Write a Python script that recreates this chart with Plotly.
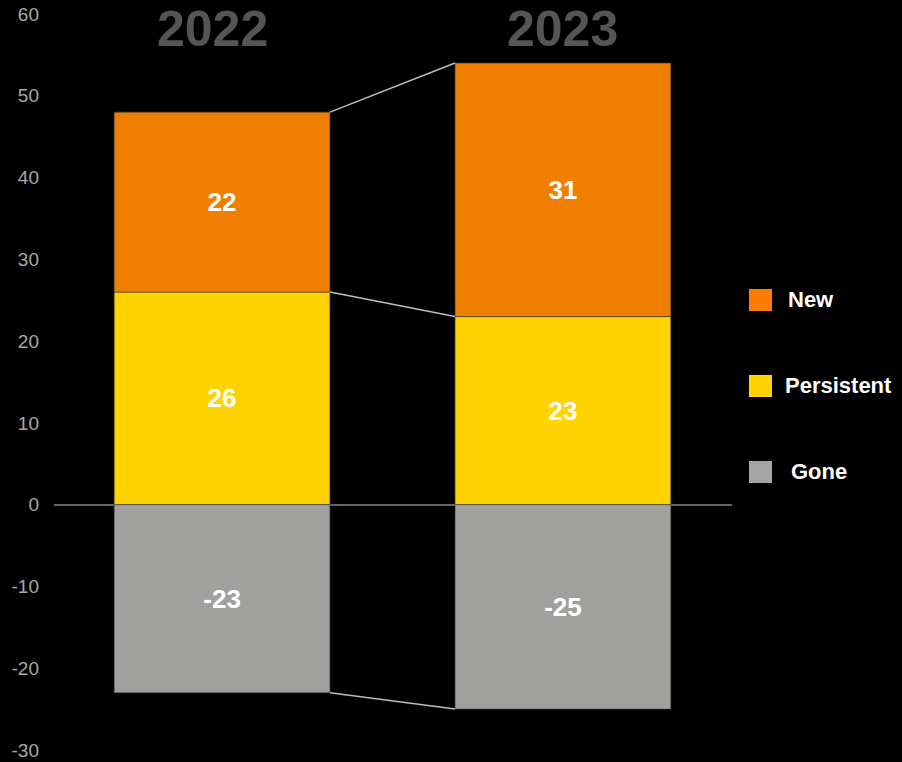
import plotly.graph_objects as go

# Data
years = ["2022", "2023"]
new_vals = [22, 31]
persistent_vals = [26, 23]
gone_vals = [-23, -25]
series_names = ["New", "Persistent", "Gone"]
y_ticks = [-30, -20, -10, 0, 10, 20, 30, 40, 50, 60]
y_tick_labels = ["-30", "-20", "-10", "0", "10", "20", "30", "40", "50", "60"]

bar_colors = {"New": "#F07F00", "Persistent": "#FFD200", "Gone": "#A0A09F"}
legend_colors = {"New": "#FF7A00", "Persistent": "#FFD200", "Gone": "#A6A6A6"}

FONT = "Liberation Sans, Arial, sans-serif"
W, H = 902, 762
ML, MR, MT, MB = 54, 170, 14, 12
PW, PH = W - ML - MR, H - MT - MB

xpos = list(range(len(years)))
bar_w = 0.633
text_font = dict(family=FONT, size=26, color="white")

fig = go.Figure()
for name, vals in [("Persistent", persistent_vals), ("New", new_vals), ("Gone", gone_vals)]:
    fig.add_trace(go.Bar(
        x=xpos, y=vals, name=name, width=bar_w,
        marker=dict(color=bar_colors[name], line=dict(color="rgba(70,70,70,0.7)", width=1)),
        text=[f"<b>{v}</b>" for v in vals], textposition="inside", insidetextanchor="middle",
        textfont=text_font, showlegend=False, hoverinfo="skip",
    ))

# Connector lines between the stacks
tops = [p + n for p, n in zip(persistent_vals, new_vals)]
for level in (tops, persistent_vals, gone_vals):
    fig.add_shape(type="line", xref="x", yref="y",
                  x0=xpos[0] + bar_w / 2, y0=level[0],
                  x1=xpos[1] - bar_w / 2, y1=level[1],
                  line=dict(color="#BDBDBD", width=1.5))


def py2paper(py):
    return (H - MB - py) / PH


def px2paper(px):
    return (px - ML) / PW


# Year headings
for yr, hx in zip(years, [212, 562]):
    fig.add_annotation(x=px2paper(hx), y=py2paper(29), xref="paper", yref="paper",
                       xanchor="center", yanchor="middle",
                       text=f"<b>{yr}</b>", showarrow=False,
                       font=dict(family=FONT, size=50, color="#555555"))

# Legend drawn as squares and labels on the right
legend_y = [300, 386, 472]  # pixel centres
label_x = [786, 783, 789]
for name, py, lx in zip(series_names, legend_y, label_x):
    fig.add_shape(type="rect", xref="paper", yref="paper",
                  x0=px2paper(749), x1=px2paper(772),
                  y0=py2paper(py + 11), y1=py2paper(py - 11),
                  fillcolor=legend_colors[name], line=dict(width=0))
    fig.add_annotation(x=px2paper(lx), y=py2paper(py - 1),
                       xref="paper", yref="paper", xanchor="left", yanchor="middle",
                       text=f"<b>{name}</b>", showarrow=False,
                       font=dict(family=FONT, size=22, color="white"))

fig.update_layout(
    width=W, height=H,
    paper_bgcolor="black", plot_bgcolor="black",
    barmode="relative",
    margin=dict(l=ML, r=MR, t=MT, b=MB),
    xaxis=dict(range=[-0.493, 1.496], showticklabels=False, showgrid=False,
               zeroline=False, showline=False, ticks="", automargin=False),
    yaxis=dict(range=[-30, 60], tickmode="array", tickvals=y_ticks, ticktext=y_tick_labels,
               showgrid=False, zeroline=True, zerolinecolor="#666666", zerolinewidth=1.5,
               showline=False, ticks="", automargin=False,
               tickfont=dict(family=FONT, size=19, color="#A8A8A8"),
               ticklabelstandoff=14),
)

fig.write_html("out.html")
